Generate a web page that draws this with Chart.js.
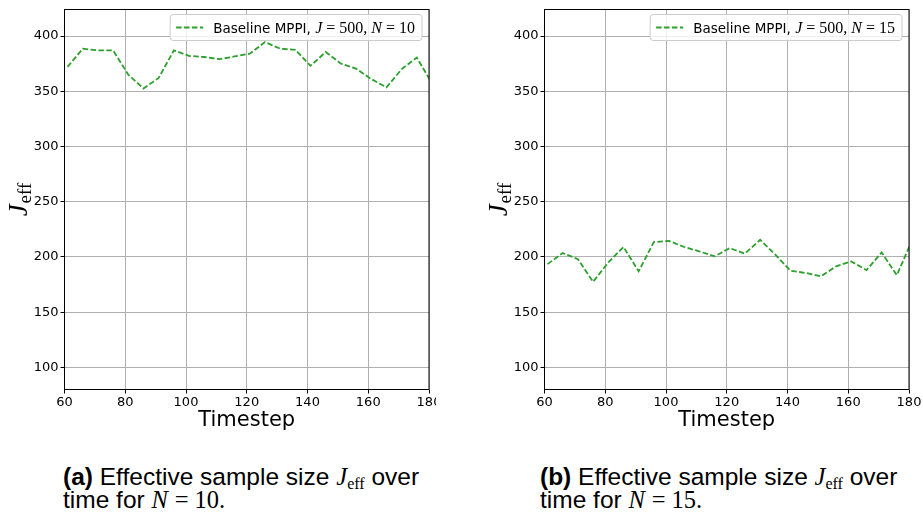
<!DOCTYPE html>
<html>
<head>
<meta charset="utf-8">
<script src="https://cdn.jsdelivr.net/npm/chart.js@4.4.1/dist/chart.umd.min.js"></script>
<style>
body { margin: 0; background: #fff; width: 923px; height: 516px; overflow: hidden; position: relative; }
canvas { position: absolute; top: 0; }
#c1 { left: 0; }
#c2 { left: 480px; }
.cap { position: absolute; top: 465px; font-family: "Liberation Sans", sans-serif; font-size: 24.5px; line-height: 23px; color: #000; white-space: nowrap; }
.cap .m { font-family: "Liberation Serif", serif; font-style: italic; }
.cap .r { font-family: "Liberation Serif", serif; }
.cap sub { font-family: "Liberation Serif", serif; font-size: 16px; vertical-align: -4px; line-height: 0; }
</style>
</head>
<body>
<canvas id="c1" width="436" height="440"></canvas>
<canvas id="c2" width="443" height="440"></canvas>
<div class="cap" style="left:63px"><b>(a)</b> Effective sample size <span class="m">J</span><sub>eff</sub> over<br>time for <span class="m">N</span> <span class="r">= 10.</span></div>
<div class="cap" style="left:540px"><b>(b)</b> Effective sample size <span class="m">J</span><sub>eff</sub> over<br>time for <span class="m">N</span> <span class="r">= 15.</span></div>
<script>
// valeurs
const timesteps = [61, 66, 71, 76, 81, 86, 91, 96, 101, 106, 111, 116, 121, 126, 131, 136, 141, 146, 151, 156, 161, 166, 171, 176, 181];
const jeffN10 = [372, 388.5, 387, 387, 365, 352.5, 362, 387, 382, 381, 379, 381.5, 384, 394.5, 388.5, 387.5, 373, 385.5, 375, 370.5, 361, 353.5, 370, 380.5, 357];
const jeffN15 = [193.5, 203.5, 198, 177.5, 195, 209, 187, 213.5, 214.5, 209, 205, 200.5, 208, 203, 215.5, 202, 187.5, 185.5, 182.5, 191.5, 196, 188, 204, 183.5, 215];
const xTicks = [60, 80, 100, 120, 140, 160, 180];
const yTicks = [100, 150, 200, 250, 300, 350, 400];
const sampleCount = 500;

const green = '#2ca02c';

// cadre, titre de l'axe y et légende façon matplotlib
const decorPlugin = {
    id: 'mplDecor',
    afterDraw(chart, args, opts) {
        const ctx = chart.ctx;
        const a = chart.chartArea;
        ctx.save();

        // cadre
        ctx.strokeStyle = '#000';
        ctx.lineWidth = 1;
        ctx.strokeRect(a.left, a.top, a.right - a.left, a.bottom - a.top);

        // J_eff vertical
        ctx.save();
        ctx.translate(26.5, (a.top + a.bottom) / 2);
        ctx.rotate(-Math.PI / 2);
        ctx.fillStyle = '#000';
        ctx.textBaseline = 'alphabetic';
        ctx.font = 'italic 27px "Liberation Serif"';
        const jw = ctx.measureText('J').width;
        ctx.font = '19px "Liberation Serif"';
        const ew = ctx.measureText('eff').width;
        const x0 = -(jw + ew + 1) / 2;
        ctx.font = 'italic 27px "Liberation Serif"';
        ctx.fillText('J', x0, 0);
        ctx.font = '19px "Liberation Serif"';
        ctx.fillText('eff', x0 + jw + 1, 4);
        ctx.restore();

        // légende
        const segs = [
            { text: 'Baseline MPPI, ', font: '13.5px "DejaVu Sans"' },
            { text: 'J', font: 'italic 16px "Liberation Serif"' },
            { text: ' = ' + sampleCount + ', ', font: '16px "Liberation Serif"' },
            { text: 'N', font: 'italic 16px "Liberation Serif"' },
            { text: ' = ' + opts.n, font: '16px "Liberation Serif"' }
        ];
        let tw = 0;
        segs.forEach(s => { ctx.font = s.font; s.w = ctx.measureText(s.text).width; tw += s.w; });
        const h = 26;
        const bx1 = a.right - 7;
        const bx0 = bx1 - (43 + tw + 7);
        const by0 = a.top + 5;
        ctx.beginPath();
        ctx.roundRect(bx0, by0, bx1 - bx0, h, 3);
        ctx.fillStyle = 'rgba(255,255,255,0.8)';
        ctx.fill();
        ctx.strokeStyle = '#cccccc';
        ctx.stroke();

        ctx.beginPath();
        ctx.setLineDash([5.5, 2.4]);
        ctx.strokeStyle = green;
        ctx.lineWidth = 1.8;
        ctx.moveTo(bx0 + 6, by0 + h / 2);
        ctx.lineTo(bx0 + 33, by0 + h / 2);
        ctx.stroke();
        ctx.setLineDash([]);

        ctx.fillStyle = '#000';
        ctx.textBaseline = 'alphabetic';
        let tx = bx0 + 43;
        segs.forEach(s => { ctx.font = s.font; ctx.fillText(s.text, tx, by0 + h / 2 + 5); tx += s.w; });

        ctx.restore();
    }
};

function makeChart(id, values, n, padRight) {
    const ctx = document.getElementById(id).getContext('2d');
    return new Chart(ctx, {
        type: 'line',
        data: {
            datasets: [{
                data: timesteps.map((t, i) => ({ x: t, y: values[i] })),
                borderColor: green,
                borderWidth: 1.8,
                borderDash: [5.5, 2.4],
                pointRadius: 0,
                tension: 0,
                fill: false,
                clip: 0
            }]
        },
        options: {
            responsive: false,
            animation: false,
            devicePixelRatio: 1,
            layout: { padding: { left: 0, right: padRight, top: 9.5, bottom: 0 } },
            plugins: {
                legend: { display: false },
                tooltip: { enabled: false },
                mplDecor: { n: n }
            },
            scales: {
                x: {
                    type: 'linear',
                    min: 60,
                    max: 180,
                    afterBuildTicks: s => { s.ticks = xTicks.map(v => ({ value: v })); },
                    afterFit: s => { s.height = 50.5; s.paddingLeft = 0; s.paddingRight = 0; },
                    grid: { color: '#b0b0b0', lineWidth: 1, tickLength: 4, tickColor: '#000', tickWidth: 1 },
                    border: { display: false },
                    ticks: { padding: 1, color: '#000', font: { family: 'DejaVu Sans', size: 13 }, maxRotation: 0, autoSkip: false },
                    title: { display: true, text: 'Timestep', color: '#000', font: { family: 'DejaVu Sans', size: 21 }, padding: { top: 0, bottom: 7 } }
                },
                y: {
                    type: 'linear',
                    min: 80,
                    max: 424,
                    afterBuildTicks: s => { s.ticks = yTicks.map(v => ({ value: v })); },
                    afterFit: s => { s.width = 64.5; s.paddingTop = 0; s.paddingBottom = 0; },
                    grid: { color: '#b0b0b0', lineWidth: 1, tickLength: 4, tickColor: '#000', tickWidth: 1 },
                    border: { display: false },
                    ticks: { padding: 2, color: '#000', font: { family: 'DejaVu Sans', size: 13 }, autoSkip: false }
                }
            }
        },
        plugins: [decorPlugin]
    });
}

makeChart('c1', jeffN10, 10, 7);
makeChart('c2', jeffN15, 15, 14);
</script>
</body>
</html>
